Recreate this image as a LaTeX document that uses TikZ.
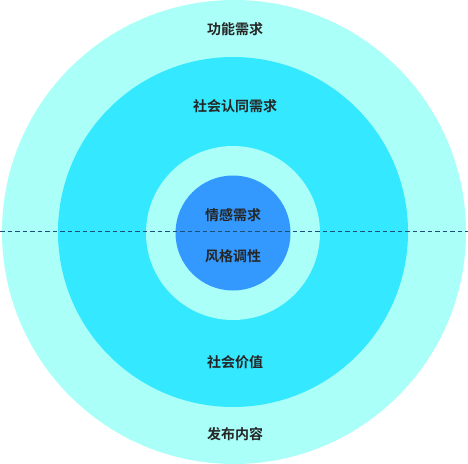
\documentclass[tikz,border=0pt]{standalone}
\usepackage{fontspec}
\newfontfamily\cjk{Noto Sans CJK SC Bold}
\definecolor{ringA}{HTML}{AAFFF8}
\definecolor{ringB}{HTML}{33E8FF}
\definecolor{coreC}{HTML}{3399FF}
\definecolor{dashc}{HTML}{1F4E79}
\begin{document}
\begin{tikzpicture}[x=1pt,y=-1pt,
  lbl/.style={font=\cjk\fontsize{14}{16}\selectfont, text=black!85, inner sep=0pt},
  disc/.style={circle, inner sep=0pt, draw=none}]
\useasboundingbox (0,0) rectangle (468,463);
\node[disc, fill=ringA, minimum size=464pt] (outer) at (234,232) {};
\node[disc, fill=ringB, minimum size=350pt] (second) at (233,232) {};
\node[disc, fill=ringA, minimum size=174pt] (third) at (233,233) {};
\node[disc, fill=coreC, minimum size=115pt] (core) at (233,233) {};
\coordinate (dl) at (0,231);
\coordinate (dr) at (468,231);
\draw[dashc, line width=0.9pt, dash pattern=on 4.5pt off 3pt] (dl) -- (dr);
\node[lbl] (t1) at (235,29) {功能需求};
\node[lbl] (t2) at (235,106) {社会认同需求};
\node[lbl] (t3) at (233,215) {情感需求};
\node[lbl] (t4) at (233,256) {风格调性};
\node[lbl] (t5) at (235,362) {社会价值};
\node[lbl] (t6) at (235,434) {发布内容};
\end{tikzpicture}
\end{document}
